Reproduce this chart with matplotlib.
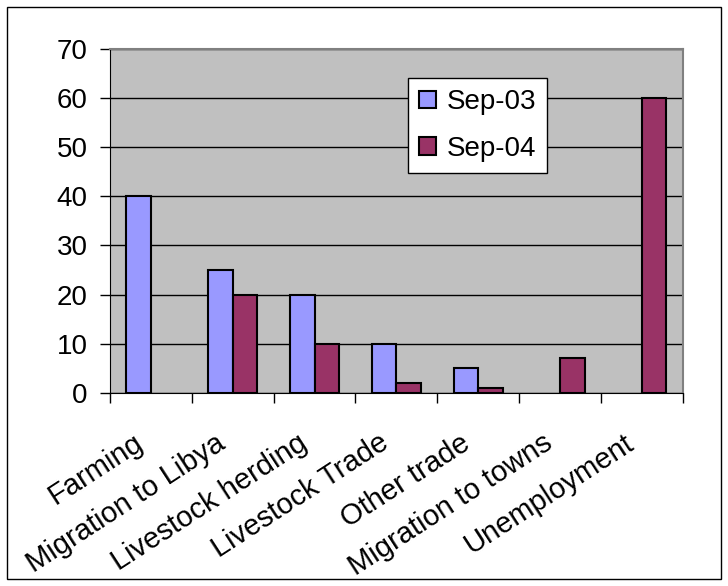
import numpy as np
import matplotlib.pyplot as plt
from matplotlib.patches import Rectangle

categorias = ['Farming', 'Migration to Libya', 'Livestock herding', 'Livestock Trade',
              'Other trade', 'Migration to towns', 'Unemployment']
sep_03 = [40, 25, 20, 10, 5, 0, 0]
sep_04 = [0, 20, 10, 2, 1, 7, 60]
series = ['Sep-03', 'Sep-04']

plt.rcParams['font.family'] = ['Liberation Sans', 'DejaVu Sans']

fig = plt.figure(figsize=(7.28, 5.86), dpi=100)
ax = fig.add_axes([0.151, 0.33, 0.787, 0.586])
ax.set_facecolor('#C0C0C0')

x = np.arange(len(categorias))
ancho = 0.3
for i, (v3, v4) in enumerate(zip(sep_03, sep_04)):
    if v3 > 0:
        ax.bar(x[i] - ancho / 2, v3, ancho, color='#9999FF', edgecolor='black', linewidth=1.5, zorder=3)
    if v4 > 0:
        ax.bar(x[i] + ancho / 2, v4, ancho, color='#993366', edgecolor='black', linewidth=1.5, zorder=3)

ax.set_xlim(-0.5, len(categorias) - 0.5)
ax.set_ylim(0, 70)
ax.set_yticks(range(0, 71, 10))
ax.yaxis.grid(True, color='black', linewidth=1, zorder=1)
ax.set_axisbelow(True)

# ticks en los limites de cada categoria, etiquetas giradas aparte
ax.set_xticks(np.arange(-0.5, len(categorias), 1))
ax.set_xticklabels([])
ax.tick_params(axis='x', length=7, width=1, color='black')
ax.tick_params(axis='y', length=7, width=1, labelsize=20, pad=9)

trans = ax.get_xaxis_transform()
for i, nombre in enumerate(categorias):
    ax.text(x[i] - 0.22, -0.105, nombre, transform=trans, rotation=33,
            rotation_mode='anchor', ha='right', va='top', fontsize=21)

for lado in ['top', 'right']:
    ax.spines[lado].set_color('#808080')
    ax.spines[lado].set_linewidth(1.5)
ax.spines['left'].set_color('black')
ax.spines['bottom'].set_color('black')

h1 = Rectangle((0, 0), 1, 1, facecolor='#9999FF', edgecolor='black', linewidth=1.5)
h2 = Rectangle((0, 0), 1, 1, facecolor='#993366', edgecolor='black', linewidth=1.5)
leg = ax.legend([h1, h2], series, loc='upper left', bbox_to_anchor=(0.52, 0.916),
                fontsize=20, frameon=True, fancybox=False, framealpha=1,
                edgecolor='black', handlelength=0.6, handleheight=0.6,
                handletextpad=0.4, labelspacing=0.75, borderpad=0.4, borderaxespad=0)
leg.get_frame().set_linewidth(1)
leg.set_zorder(5)

fig.patches.append(Rectangle((7 / 728, 7 / 586), 714 / 728, 572 / 586, transform=fig.transFigure,
                             fill=False, edgecolor='black', linewidth=1))

plt.savefig('out.png', dpi=100)
